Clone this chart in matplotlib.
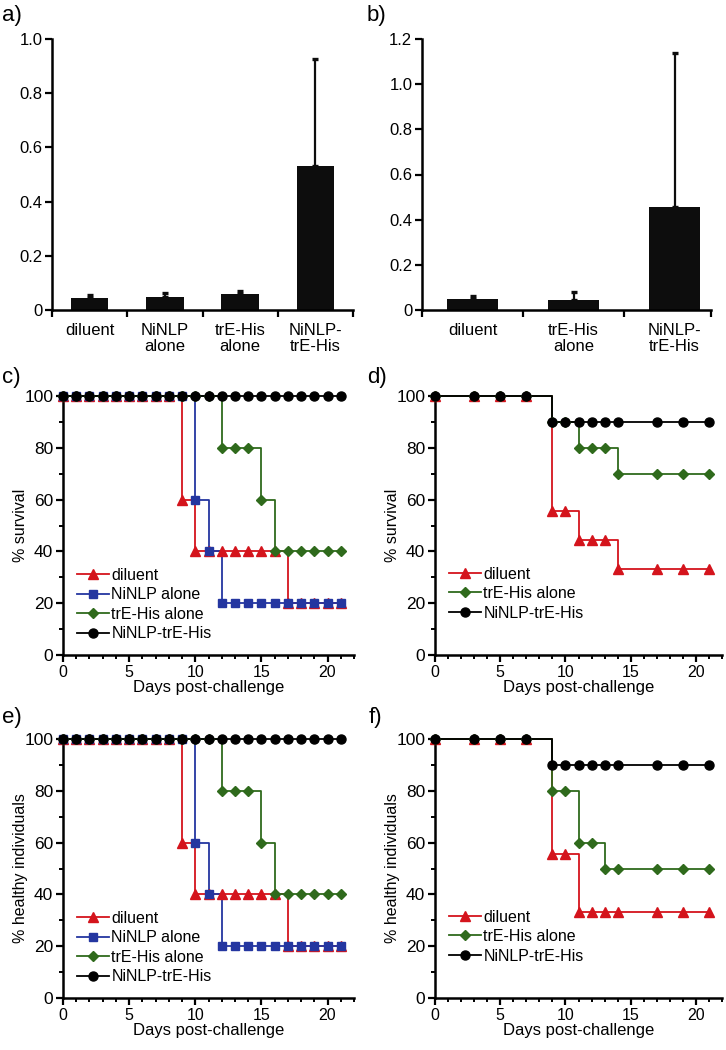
import matplotlib
matplotlib.use("Agg")
import matplotlib.pyplot as plt
from matplotlib.lines import Line2D
from matplotlib.ticker import MultipleLocator

plt.rcParams["font.family"] = ["Liberation Sans", "DejaVu Sans"]

W, H = 726, 1050

# ---- bar panels ----
bar_a_labels = ["diluent", "NiNLP\nalone", "trE-His\nalone", "NiNLP-\ntrE-His"]
bar_a_vals = [0.045, 0.048, 0.058, 0.53]
bar_a_err = [0.011, 0.015, 0.013, 0.395]

bar_b_labels = ["diluent", "trE-His\nalone", "NiNLP-\ntrE-His"]
bar_b_vals = [0.047, 0.046, 0.456]
bar_b_err = [0.014, 0.034, 0.684]

# ---- survival panels (c, e share data) ----
days_ce = list(range(22))
ce_diluent = [100] * 9 + [60] + [40] * 7 + [20] * 5
ce_ninlp = [100] * 10 + [60, 40] + [20] * 10
ce_tre = [100] * 12 + [80, 80, 80, 60] + [40] * 6
ce_combo = [100] * 22

days_df = [0, 3, 5, 7, 9, 10, 11, 12, 13, 14, 17, 19, 21]
d_diluent = [100, 100, 100, 100, 55.6, 55.6, 44.4, 44.4, 44.4, 33.3, 33.3, 33.3, 33.3]
d_tre = [100, 100, 100, 100, 90, 90, 80, 80, 80, 70, 70, 70, 70]
d_combo = [100, 100, 100, 100, 90, 90, 90, 90, 90, 90, 90, 90, 90]

f_diluent = [100, 100, 100, 100, 55.6, 55.6, 33.3, 33.3, 33.3, 33.3, 33.3, 33.3, 33.3]
f_tre = [100, 100, 100, 100, 80, 80, 60, 60, 50, 50, 50, 50, 50]
f_combo = [100, 100, 100, 100, 90, 90, 90, 90, 90, 90, 90, 90, 90]

RED = "#d4141c"
BLUE = "#2436a0"
GREEN = "#2f6a1c"
BLACK = "#000000"

fig = plt.figure(figsize=(W / 100, H / 100), dpi=100)


def ax_px(left, right, top, bottom):
    return fig.add_axes([left / W, 1 - bottom / H, (right - left) / W, (bottom - top) / H])


def style_axes(ax):
    for s in ("top", "right"):
        ax.spines[s].set_visible(False)
    for s in ("left", "bottom"):
        ax.spines[s].set_linewidth(1.8)
    ax.tick_params(axis="both", which="major", direction="out", length=5, width=1.6, pad=2)
    ax.tick_params(axis="both", which="minor", direction="out", length=3, width=1.4)


def bar_panel(ax, labels, vals, errs, ymax, xright):
    x = list(range(len(labels)))
    ax.bar(x, vals, width=0.5, color="#0d0d0d", zorder=2)
    ax.errorbar(x, vals, yerr=[[0] * len(errs), errs], fmt="none", ecolor="#0d0d0d",
                elinewidth=1.6, capsize=2.5, capthick=2.4, zorder=1)
    ax.set_xlim(-0.5, xright)
    ax.set_ylim(0, ymax)
    ticks = [0.0, 0.2, 0.4, 0.6, 0.8, 1.0, 1.2][: int(round(ymax / 0.2)) + 1]
    ax.set_yticks(ticks)
    ax.set_yticklabels(["0"] + [f"{v:.1f}" for v in ticks[1:]])
    ax.set_xticks([i - 0.5 for i in x] + [xright])
    ax.set_xticklabels([])
    ax.set_xticks(x, minor=True)
    ax.set_xticklabels(labels, minor=True, fontsize=12, linespacing=1.1)
    style_axes(ax)
    ax.tick_params(axis="y", labelsize=12)
    ax.tick_params(axis="x", which="minor", length=0, pad=9)


def surv_panel(ax, days, series, ylabel):
    for vals, color, marker, ms, label in series:
        ax.plot(days, vals, drawstyle="steps-post", color=color, lw=1.3,
                clip_on=False, zorder=2)
        ax.plot(days, vals, ls="none", marker=marker, ms=ms, color=color,
                mec=color, clip_on=False, zorder=3)
    ax.set_xlim(0, 22)
    ax.set_ylim(0, 100)
    ax.xaxis.set_major_locator(MultipleLocator(5))
    ax.xaxis.set_minor_locator(MultipleLocator(1))
    ax.yaxis.set_major_locator(MultipleLocator(20))
    ax.yaxis.set_minor_locator(MultipleLocator(10))
    ax.set_xticks([0, 5, 10, 15, 20])
    ax.set_xlabel("Days post-challenge", fontsize=12, labelpad=0)
    ax.set_ylabel(ylabel, fontsize=11.5, labelpad=-3)
    style_axes(ax)
    ax.tick_params(axis="x", labelsize=11.5)
    ax.tick_params(axis="y", labelsize=12.5)
    handles = [Line2D([], [], color=c, lw=1.3, marker=m, ms=ms, mec=c)
               for _, c, m, ms, _ in series]
    ax.legend(handles, [s[4] for s in series], loc="lower left",
              bbox_to_anchor=(0.01, 0.01 + (0.0 if len(series) == 4 else 0.08)),
              frameon=False, fontsize=11.5, handlelength=2.0, handletextpad=0.15,
              labelspacing=0.28, borderpad=0.2)


# a)
ax_a = ax_px(52, 353, 39, 310)
bar_panel(ax_a, bar_a_labels, bar_a_vals, bar_a_err, 1.0, 3.5)
# b)
ax_b = ax_px(422, 711, 39, 310)
bar_panel(ax_b, bar_b_labels, bar_b_vals, bar_b_err, 1.2, 2.36)

ser_ce = [
    (ce_diluent, RED, "^", 6.5, "diluent"),
    (ce_ninlp, BLUE, "s", 5.5, "NiNLP alone"),
    (ce_tre, GREEN, "D", 5, "trE-His alone"),
    (ce_combo, BLACK, "o", 6.5, "NiNLP-trE-His"),
]
ser_d = [
    (d_diluent, RED, "^", 6.5, "diluent"),
    (d_tre, GREEN, "D", 5, "trE-His alone"),
    (d_combo, BLACK, "o", 6.5, "NiNLP-trE-His"),
]
ser_f = [
    (f_diluent, RED, "^", 6.5, "diluent"),
    (f_tre, GREEN, "D", 5, "trE-His alone"),
    (f_combo, BLACK, "o", 6.5, "NiNLP-trE-His"),
]

ax_c = ax_px(63, 354, 396, 655)
surv_panel(ax_c, days_ce, ser_ce, "% survival")
ax_d = ax_px(435, 722, 396, 655)
surv_panel(ax_d, days_df, ser_d, "% survival")
ax_e = ax_px(63, 354, 739, 998)
surv_panel(ax_e, days_ce, ser_ce, "% healthy individuals")
ax_f = ax_px(435, 722, 739, 998)
surv_panel(ax_f, days_df, ser_f, "% healthy individuals")

for lab, x, y in [("a)", 2, 15), ("b)", 367, 15), ("c)", 2, 378), ("d)", 367, 378),
                  ("e)", 2, 718), ("f)", 369, 718)]:
    fig.text(x / W, 1 - y / H, lab, fontsize=16, ha="left", va="center")

fig.savefig("out.png", dpi=100, facecolor="white")
